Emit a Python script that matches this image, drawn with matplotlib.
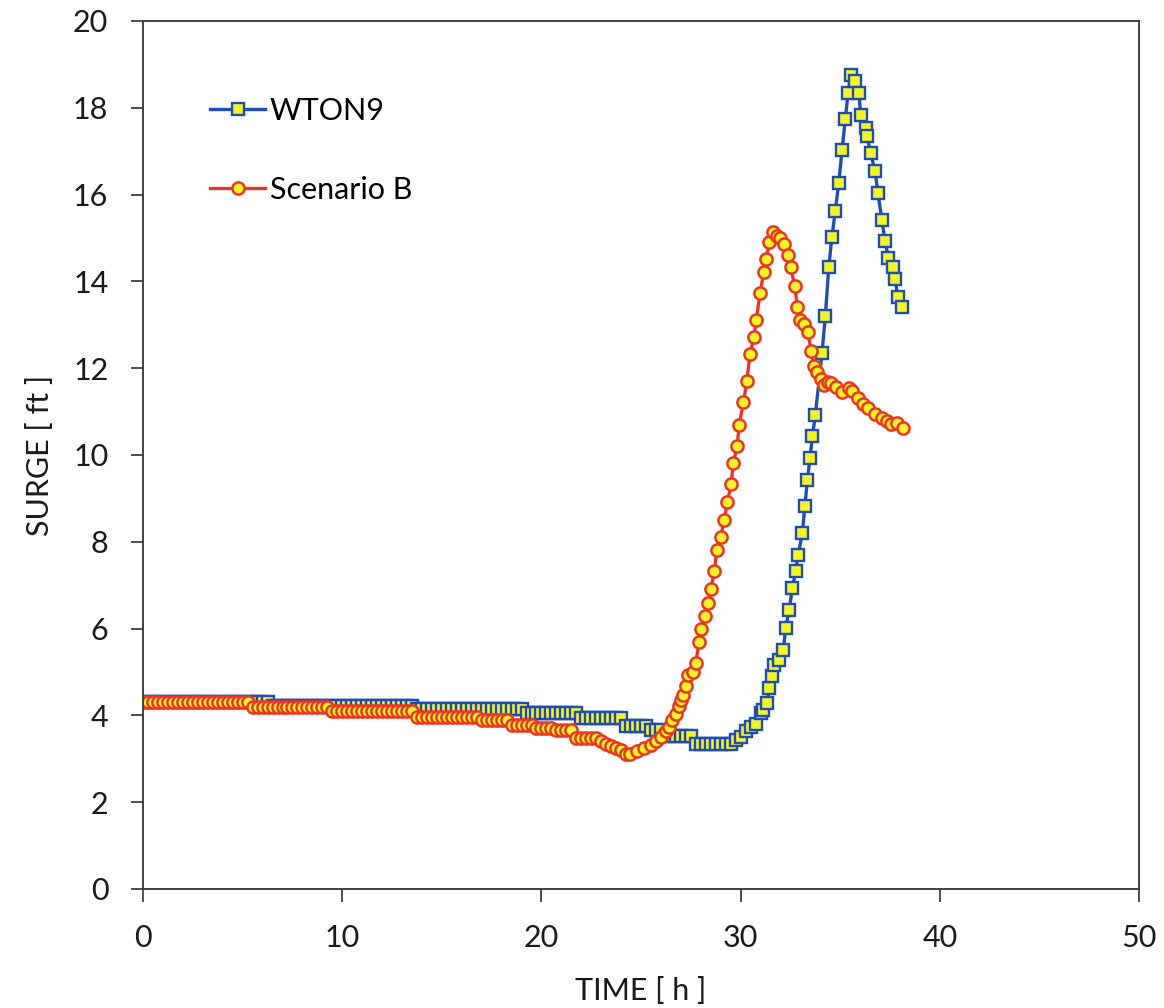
import numpy as np
import matplotlib
matplotlib.use('Agg')
import matplotlib.pyplot as plt

plt.rcParams['font.family'] = ['Lato', 'DejaVu Sans']

# quiet part of the record, one value every quarter hour from t = 0
calm_step_h = 0.25

wton9_calm = [
    4.30, 4.30, 4.30, 4.30, 4.30, 4.30, 4.30, 4.30, 4.30, 4.30, 4.30, 4.30, 4.30,
    4.30, 4.30, 4.30, 4.30, 4.30, 4.30, 4.30, 4.30, 4.30, 4.30, 4.30, 4.30, 4.30,
    4.22, 4.22, 4.22, 4.22, 4.22, 4.22, 4.22, 4.22, 4.22, 4.22, 4.22, 4.22, 4.22,
    4.22, 4.22, 4.22, 4.22, 4.22, 4.22, 4.22, 4.22, 4.22, 4.22, 4.22, 4.22, 4.22,
    4.22, 4.22, 4.22,
    4.15, 4.15, 4.15, 4.15, 4.15, 4.15, 4.15, 4.15, 4.15, 4.15, 4.15, 4.15, 4.15,
    4.15, 4.15, 4.15, 4.15, 4.15, 4.15, 4.15, 4.15, 4.15,
    4.05, 4.05, 4.05, 4.05, 4.05, 4.05, 4.05, 4.05, 4.05, 4.05, 4.05,
    3.94, 3.94, 3.94, 3.94, 3.94, 3.94, 3.94, 3.94, 3.94,
    3.75, 3.75, 3.75, 3.75, 3.75,
    3.67, 3.67, 3.67,
    3.52, 3.52, 3.52, 3.52, 3.52, 3.52,
    3.33, 3.33, 3.33, 3.33, 3.33, 3.33, 3.33, 3.33,
]

scenb_calm = [
    4.30, 4.30, 4.30, 4.30, 4.30, 4.30, 4.30, 4.30, 4.30, 4.30, 4.30,
    4.30, 4.30, 4.30, 4.30, 4.30, 4.30, 4.30, 4.30, 4.30, 4.30, 4.30,
    4.20, 4.20, 4.20, 4.20, 4.20, 4.20, 4.20, 4.20,
    4.20, 4.20, 4.20, 4.20, 4.20, 4.20, 4.20, 4.20,
    4.10, 4.10, 4.10, 4.10, 4.10, 4.10, 4.10, 4.10, 4.10,
    4.10, 4.10, 4.10, 4.10, 4.10, 4.10, 4.10, 4.10,
    3.97, 3.97, 3.97, 3.97, 3.97, 3.97, 3.97, 3.97, 3.97, 3.97, 3.97, 3.97, 3.97,
    3.90, 3.90, 3.90, 3.90, 3.90, 3.90,
    3.78, 3.78, 3.78, 3.78, 3.78,
    3.71, 3.71, 3.71, 3.71,
    3.67, 3.67, 3.67, 3.67,
    3.48, 3.48, 3.48, 3.48, 3.48,
    3.40, 3.33, 3.30, 3.24, 3.20, 3.12,
]

# storm part, read point by point
wton9_storm_t = [
    29.75, 30.00, 30.25, 30.50, 30.75, 31.00, 31.14, 31.34, 31.44, 31.59,
    31.68, 31.93, 32.14, 32.26, 32.43, 32.60, 32.76, 32.88, 33.10, 33.22,
    33.35, 33.48, 33.60, 33.75, 34.08, 34.25, 34.42, 34.58, 34.75, 34.92,
    35.09, 35.25, 35.39, 35.52, 35.75, 35.94, 36.02, 36.27, 36.35, 36.52,
    36.75, 36.89, 37.09, 37.25, 37.42, 37.64, 37.75, 37.89, 38.09,
]
wton9_storm = [
    3.44, 3.51, 3.63, 3.74, 3.81, 4.05, 4.13, 4.28, 4.63, 4.90,
    5.17, 5.28, 5.51, 6.01, 6.42, 6.94, 7.32, 7.70, 8.20, 8.83,
    9.42, 9.93, 10.43, 10.93, 12.34, 13.20, 14.32, 15.03, 15.62, 16.26,
    17.03, 17.74, 18.33, 18.75, 18.62, 18.33, 17.84, 17.54, 17.34, 16.95,
    16.54, 16.03, 15.41, 14.92, 14.53, 14.34, 14.05, 13.65, 13.42,
]

scenb_storm_t = [
    24.45, 24.80, 25.14, 25.48, 25.73, 25.98, 26.23, 26.40, 26.57, 26.73,
    26.90, 26.98, 27.12, 27.24, 27.38, 27.62, 27.74, 27.92, 28.03, 28.20,
    28.38, 28.50, 28.68, 28.80, 29.00, 29.18, 29.33, 29.52, 29.63, 29.82,
    29.93, 30.14, 30.31, 30.47, 30.66, 30.78, 30.97, 31.17, 31.29, 31.44,
    31.62, 31.82, 31.95, 32.18, 32.38, 32.51, 32.71, 32.85, 33.00, 33.20,
    33.36, 33.55, 33.66, 33.84, 34.02, 34.20, 34.37, 34.55, 34.80, 35.10,
    35.44, 35.61, 35.87, 36.15, 36.40, 36.75, 37.10, 37.35, 37.54, 37.87,
    38.15,
]
scenb_storm = [
    3.10, 3.17, 3.24, 3.32, 3.40, 3.51, 3.63, 3.74, 3.90, 4.04,
    4.21, 4.36, 4.48, 4.68, 4.94, 5.00, 5.20, 5.70, 5.99, 6.28,
    6.60, 6.91, 7.32, 7.82, 8.11, 8.50, 8.91, 9.32, 9.82, 10.20,
    10.70, 11.22, 11.70, 12.33, 12.71, 13.11, 13.73, 14.22, 14.52, 14.90,
    15.14, 15.05, 15.00, 14.86, 14.60, 14.32, 13.90, 13.41, 13.12, 13.02,
    12.83, 12.40, 12.06, 11.92, 11.75, 11.62, 11.68, 11.66, 11.56, 11.45,
    11.54, 11.47, 11.32, 11.18, 11.08, 10.95, 10.86, 10.78, 10.72, 10.74,
    10.63,
]


def full_series(calm, storm_t, storm):
    t = list(np.arange(len(calm)) * calm_step_h) + list(storm_t)
    return np.array(t), np.array(list(calm) + list(storm))


t_w, s_w = full_series(wton9_calm, wton9_storm_t, wton9_storm)
t_b, s_b = full_series(scenb_calm, scenb_storm_t, scenb_storm)

fig = plt.figure(figsize=(11.64, 10.08), dpi=100)
ax = fig.add_axes([0.1229, 0.1181, 0.8557, 0.8611])

ax.plot(t_w, s_w, color='#1F4DB8', lw=2.4, marker='s', ms=8.0,
        mfc='#F5F525', mec='#1F4DB8', mew=1.7, label='WTON9')
ax.plot(t_b, s_b, color='#EE3524', lw=2.4, marker='o', ms=8.8,
        mfc='#F5F525', mec='#EE3524', mew=1.8, label='Scenario B')

ax.set_xlim(0, 50)
ax.set_ylim(0, 20)
ax.set_xticks(np.arange(0, 51, 10))
ax.set_yticks(np.arange(0, 21, 2))
ax.tick_params(direction='out', length=9, width=1.3, colors='#404040',
               labelcolor='#1a1a1a', labelsize=22, pad=16)
for sp in ax.spines.values():
    sp.set_color('#404040')
    sp.set_linewidth(1.4)

ax.set_xlabel('TIME [ h ]', fontsize=22, color='#1a1a1a', labelpad=18)
ax.set_ylabel('SURGE [ ft ]', fontsize=22, color='#1a1a1a', labelpad=14)

ax.legend(loc='upper left', bbox_to_anchor=(0.055, 0.927), frameon=False,
          fontsize=22, labelspacing=1.68, handlelength=1.8,
          handletextpad=0.15, borderaxespad=0)

fig.savefig('out.png', dpi=100)
